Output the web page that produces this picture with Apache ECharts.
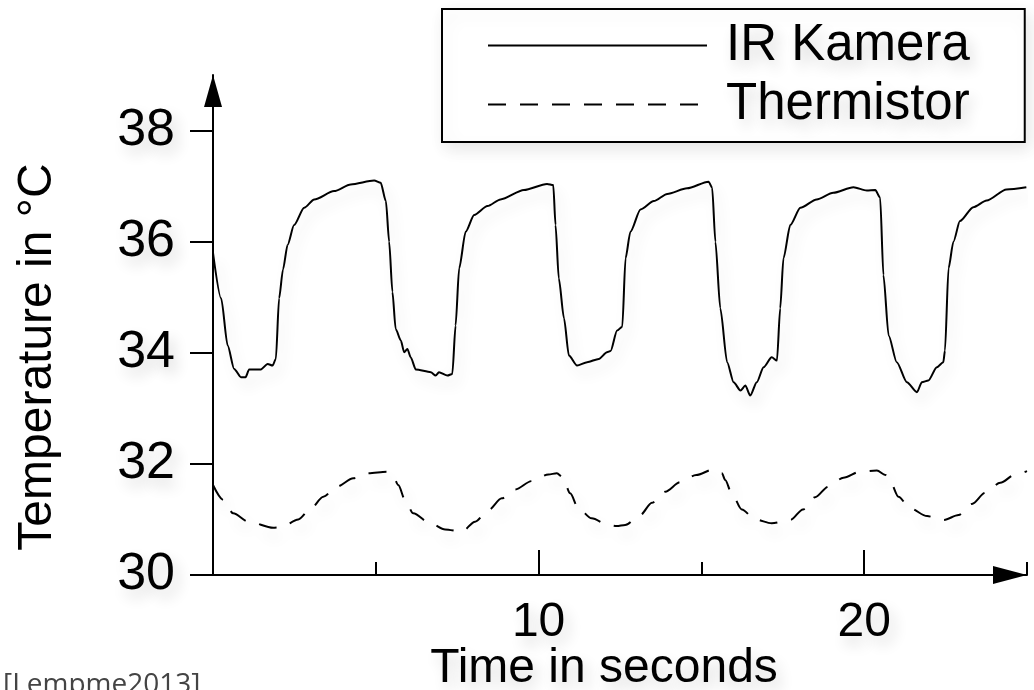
<!DOCTYPE html>
<html><head><meta charset="utf-8">
<script src="https://cdn.jsdelivr.net/npm/echarts@6/dist/echarts.min.js"></script>
<style>html,body{margin:0;padding:0;background:#fff}#c{width:1034px;height:690px}</style>
</head><body><div id="c"></div>
<script>
// ---- data ----
const seriesNames = ['IR Kamera', 'Thermistor'];
const irTime = [0.0,0.25,0.45,0.65,0.86,1.0,1.11,1.47,1.68,1.83,1.93,2.03,2.15,2.29,2.49,2.80,3.11,3.72,4.23,4.95,5.15,5.31,5.41,5.51,5.61,5.77,5.87,5.97,6.07,6.23,6.69,6.84,6.94,7.20,7.35,7.45,7.56,7.76,8.02,8.43,8.83,9.55,10.26,10.45,10.52,10.62,10.78,10.93,11.18,11.49,11.85,12.10,12.21,12.41,12.57,12.67,12.82,13.13,13.54,13.95,14.56,15.22,15.33,15.43,15.58,15.79,15.99,16.20,16.35,16.50,16.70,16.91,17.16,17.32,17.42,17.52,17.73,18.04,18.54,19.05,19.67,20.08,20.34,20.49,20.59,20.75,21.00,21.31,21.62,21.77,21.97,22.23,22.43,22.48,22.59,22.74,22.94,23.35,23.76,24.37,24.98];
const irTemp = [35.8,34.98,34.13,33.71,33.56,33.56,33.70,33.70,33.80,33.77,33.89,34.98,35.5,35.94,36.30,36.61,36.76,36.91,37.03,37.10,37.06,36.73,36.0,35.10,34.43,34.22,34.01,34.07,33.92,33.70,33.65,33.59,33.65,33.59,33.62,34.49,35.52,36.18,36.48,36.64,36.76,36.93,37.04,37.02,36.30,35.34,34.62,33.95,33.77,33.83,33.89,34.01,34.03,34.40,34.47,35.70,36.18,36.58,36.73,36.86,36.96,37.08,36.97,36.0,34.80,33.83,33.47,33.32,33.41,33.23,33.47,33.74,33.92,33.86,34.80,35.70,36.30,36.61,36.76,36.88,36.98,36.92,36.93,36.79,35.40,34.31,33.83,33.47,33.29,33.47,33.50,33.74,33.83,34.04,35.52,36.0,36.37,36.62,36.74,36.94,36.98];
const thTime = [0,0.32,0.62,1.09,1.85,2.1,2.62,2.98,3.39,3.80,4.31,4.77,5.34,5.54,5.69,5.90,6.15,6.67,7.13,7.64,8.05,8.46,8.87,9.28,9.79,10.30,10.56,10.74,10.97,11.22,11.63,12.14,12.40,12.66,13.12,13.48,13.89,14.35,14.84,15.37,15.63,15.73,15.93,16.24,16.65,17.16,17.73,18.12,18.49,18.90,19.36,19.88,20.39,20.65,20.80,21.05,21.41,21.93,22.44,22.90,23.31,23.72,24.18,24.64,25.0];
const thTemp = [31.62,31.35,31.11,30.96,30.85,30.86,31.0,31.18,31.41,31.59,31.74,31.83,31.86,31.77,31.62,31.35,31.11,30.93,30.82,30.78,30.96,31.17,31.38,31.54,31.69,31.81,31.83,31.76,31.47,31.20,31.02,30.90,30.88,30.90,31.08,31.30,31.50,31.67,31.80,31.90,31.83,31.71,31.47,31.18,31.00,30.93,30.99,31.18,31.40,31.59,31.75,31.86,31.88,31.80,31.68,31.41,31.20,31.06,30.99,31.08,31.28,31.48,31.66,31.81,31.87];
const yTickValues = [30, 32, 34, 36, 38];
const xMajorTicks = [10, 20];
const xMinorTicks = [5, 15, 25];
const xTitle = 'Time in seconds';
const yTitle = 'Temperature in °C';
const citation = '[Lempme2013]';

// ---- chart ----
const irData = irTime.map((t, i) => [t, irTemp[i]]);
const thData = thTime.map((t, i) => [t, thTemp[i]]);
const FONT = '"Liberation Sans", Arial, sans-serif';
const txtShadow = {textShadowColor: 'rgba(0,0,0,0.16)', textShadowBlur: 14, textShadowOffsetX: 5, textShadowOffsetY: 8};
const lineShadow = {shadowColor: 'rgba(0,0,0,0.14)', shadowBlur: 14, shadowOffsetX: 5, shadowOffsetY: 9};

const chart = echarts.init(document.getElementById('c'), null, {renderer: 'canvas'});
chart.setOption({
  backgroundColor: '#ffffff',
  animation: false,
  grid: {left: 213, right: 7, top: 75, bottom: 115, containLabel: false, outerBoundsMode: 'none'},
  legend: {
    orient: 'vertical', left: 442, top: 9,
    padding: [11, 55, 12, 45],
    itemWidth: 219, itemHeight: 14, itemGap: 8,
    borderColor: '#000', borderWidth: 2,
    backgroundColor: '#fff',
    shadowColor: 'rgba(0,0,0,0.10)', shadowBlur: 16, shadowOffsetX: 4, shadowOffsetY: 6,
    data: seriesNames,
    itemStyle: {opacity: 0},
    textStyle: Object.assign({fontSize: 51, fontFamily: FONT, color: '#000', padding: [0, 0, 0, 14]}, txtShadow)
  },
  xAxis: [
    {
      type: 'value', min: 0, max: 25, position: 'bottom',
      axisLine: {show: true, lineStyle: {color: '#000', width: 2}, symbol: ['none', 'triangle'], symbolSize: [18, 34], symbolOffset: [0, -17]},
      axisTick: {show: true, inside: true, length: 13, customValues: xMinorTicks, lineStyle: {color: '#000', width: 2}},
      axisLabel: {show: false},
      splitLine: {show: false}
    },
    {
      type: 'value', min: 0, max: 25, position: 'bottom',
      axisLine: {show: false},
      axisTick: {show: true, inside: true, length: 25, customValues: xMajorTicks, lineStyle: {color: '#000', width: 2}},
      axisLabel: Object.assign({show: true, customValues: xMajorTicks, fontSize: 48, fontFamily: FONT, color: '#000', margin: 24}, txtShadow),
      splitLine: {show: false},
      name: xTitle, nameLocation: 'middle', nameGap: 70, nameMoveOverlap: false,
      nameTextStyle: Object.assign({fontSize: 48, fontFamily: FONT, color: '#000', padding: [0, 32, 0, 0]}, txtShadow)
    }
  ],
  yAxis: {
    type: 'value', min: 30, max: 39,
    axisLine: {show: true, lineStyle: {color: '#000', width: 2}, symbol: ['none', 'triangle'], symbolSize: [18, 32], symbolOffset: [0, -16]},
    axisTick: {show: true, inside: false, length: 23, customValues: yTickValues, lineStyle: {color: '#000', width: 2}},
    axisLabel: Object.assign({show: true, customValues: yTickValues, fontSize: 52, fontFamily: FONT, color: '#000', margin: 38}, txtShadow),
    splitLine: {show: false}
  },
  graphic: [
    {type: 'text', x: 38, y: 357, rotation: Math.PI / 2,
     style: Object.assign({text: yTitle, fontSize: 48, fontFamily: FONT, fill: '#000', align: 'center', verticalAlign: 'middle'}, {shadowColor: 'rgba(0,0,0,0.16)', shadowBlur: 14, shadowOffsetX: 6, shadowOffsetY: 6})},
    {type: 'text', left: 3, top: 671,
     style: {text: citation, fontSize: 28, fontFamily: '"Open Sans", sans-serif', fill: '#444'}}
  ],
  series: [
    {name: seriesNames[0], type: 'line', xAxisIndex: 0, data: irData, symbol: 'none', smooth: 0.25, smoothMonotone: 'x',
     lineStyle: Object.assign({color: '#000', width: 2, type: 'solid'}, lineShadow), itemStyle: {color: '#000'}},
    {name: seriesNames[1], type: 'line', xAxisIndex: 0, data: thData, symbol: 'none', smooth: 0.3, smoothMonotone: 'x',
     lineStyle: Object.assign({color: '#000', width: 2, type: [18, 14]}, lineShadow), itemStyle: {color: '#000'}}
  ]
});
</script>
</body></html>
